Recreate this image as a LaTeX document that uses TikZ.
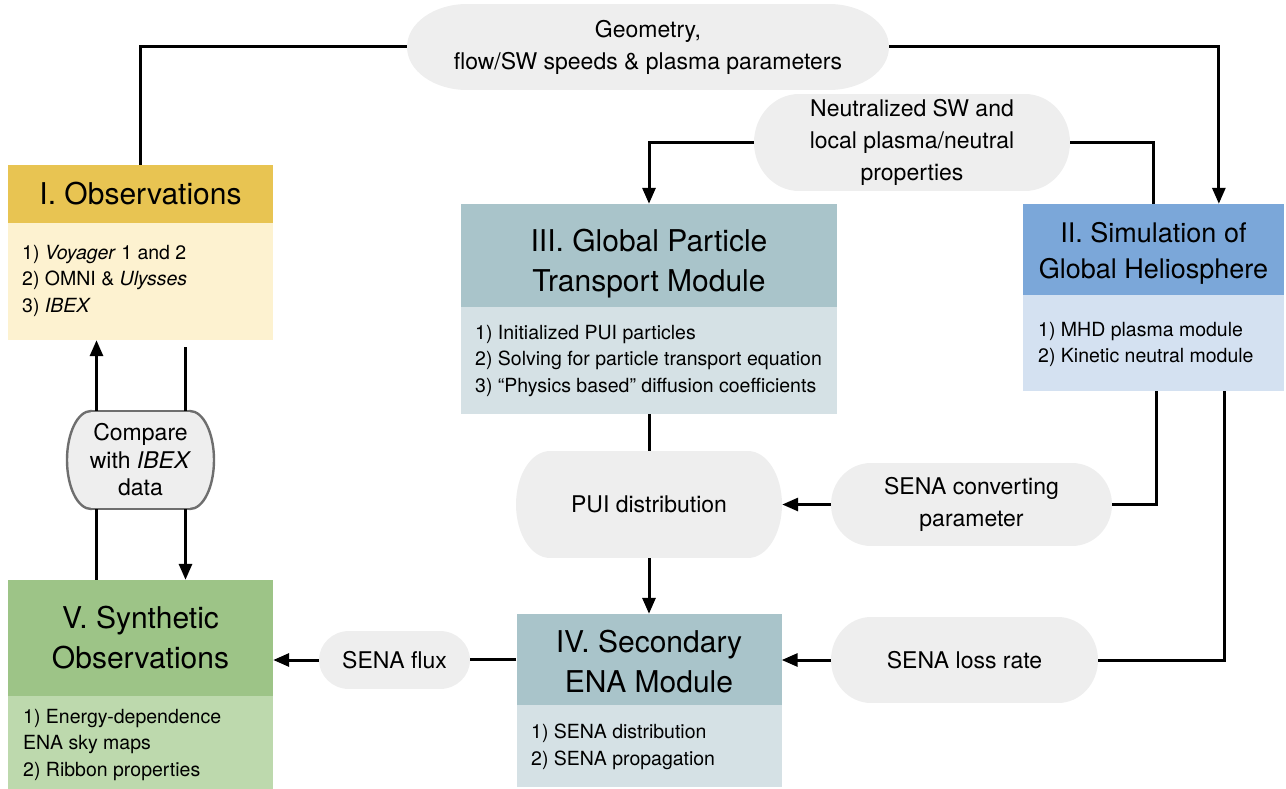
\documentclass[tikz,border=0pt]{standalone}
\usepackage{fontspec}
\setmainfont{TeX Gyre Heros}
\usetikzlibrary{arrows.meta,calc}
\definecolor{obsHc}{HTML}{E8C452}
\definecolor{obsBc}{HTML}{FDF2D0}
\definecolor{simHc}{HTML}{7BA7D9}
\definecolor{simBc}{HTML}{D4E1F1}
\definecolor{modHc}{HTML}{A9C4CA}
\definecolor{modBc}{HTML}{D5E1E5}
\definecolor{synHc}{HTML}{9DC487}
\definecolor{synBc}{HTML}{BDD9AD}
\definecolor{pillc}{HTML}{EEEEEE}
\definecolor{cmpedge}{HTML}{6E6E6E}
\tikzset{
  ln/.style={line width=3pt, line join=miter},
  arr/.style={ln, -{Triangle[length=16pt,width=13pt]}},
  part/.style={rectangle, inner sep=0pt, draw=none},
  titletext/.style={inner sep=0pt, align=center, font=\fontsize{30}{40}\selectfont},
  bodytext/.style={inner sep=0pt, anchor=north west, align=left, font=\fontsize{19.5}{26.5}\selectfont},
  pilltext/.style={rectangle, inner sep=0pt, align=center, font=\fontsize{23}{32}\selectfont},
  cmpline/.style={draw=cmpedge, line width=2.4pt}
}
\newcommand\pillbg[5]{%
  \fill[pillc] (#1+#5,#2) rectangle (#3-#5,#4);
  \fill[pillc] (#1+#5,{(#2+#4)/2}) ellipse [x radius=#5, y radius={(#4-#2)/2}];
  \fill[pillc] (#3-#5,{(#2+#4)/2}) ellipse [x radius=#5, y radius={(#4-#2)/2}];}
\begin{document}
\begin{tikzpicture}[x=1pt,y=-1pt]
\useasboundingbox (0,0) rectangle (1286,789);

% ---------- boxes ----------
% I. Observations
\node[part, fill=obsHc, minimum width=265, minimum height=58] (obsH) at (140.5,194) {};
\node[titletext] (obsL) at (140.5,194) {I. Observations};
\node[part, fill=obsBc, minimum width=265, minimum height=117] (obsB) at (140.5,281.5) {};
\node[bodytext] (obsT) at (22,245) {1) \textit{Voyager} 1 and 2\\2) OMNI \& \textit{Ulysses}\\3) \textit{IBEX}};

% II. Simulation
\node[part, fill=simHc, minimum width=261, minimum height=91] (simH) at (1153.5,249.5) {};
\node[titletext, font=\fontsize{27}{36}\selectfont] (simL) at (1153.5,253.5) {II. Simulation of\\Global Heliosphere};
\node[part, fill=simBc, minimum width=261, minimum height=96] (simB) at (1153.5,343) {};
\node[bodytext] (simT) at (1038,322) {1) MHD plasma module\\2) Kinetic neutral module};

% III. Global Particle Transport
\node[part, fill=modHc, minimum width=376, minimum height=103] (modH) at (649,255.5) {};
\node[titletext] (modL) at (649,264) {III. Global Particle\\Transport Module};
\node[part, fill=modBc, minimum width=376, minimum height=107] (modB) at (649,360.5) {};
\node[bodytext] (modT) at (475,325) {1) Initialized PUI particles\\2) Solving for particle transport equation\\3) “Physics based” diffusion coefficients};

% IV. Secondary ENA
\node[part, fill=modHc, minimum width=265, minimum height=91] (senH) at (649,659.5) {};
\node[titletext] (senL) at (649,662) {IV. Secondary\\ENA Module};
\node[part, fill=modBc, minimum width=265, minimum height=82] (senB) at (649,746) {};
\node[bodytext] (senT) at (531,724) {1) SENA distribution\\2) SENA propagation};

% V. Synthetic Observations
\node[part, fill=synHc, minimum width=265, minimum height=116] (synH) at (140.5,638) {};
\node[titletext] (synL) at (140.5,638) {V. Synthetic\\Observations};
\node[part, fill=synBc, minimum width=265, minimum height=93] (synB) at (140.5,742.5) {};
\node[bodytext] (synT) at (23,709) {1) Energy-dependence\\ENA sky maps\\2) Ribbon properties};

% ---------- pills ----------
\pillbg{407}{4}{889}{90}{60}
\node[pilltext, minimum width=482, minimum height=86] (geo) at (648,47) {Geometry,\\flow/SW speeds \& plasma parameters};

\pillbg{754}{94}{1070}{191}{45}
\node[pilltext, minimum width=316, minimum height=97] (neu) at (912,142.5) {Neutralized SW and\\local plasma/neutral\\properties};

\pillbg{516}{451}{782}{558}{34}
\node[pilltext, minimum width=266, minimum height=107] (pui) at (649,504.5) {PUI distribution};

\pillbg{831}{463}{1112}{546}{40}
\node[pilltext, minimum width=281, minimum height=83] (conv) at (971.5,504.5) {SENA converting\\parameter};

\pillbg{831}{617}{1098}{703}{40}
\node[pilltext, minimum width=267, minimum height=86] (loss) at (964.5,660) {SENA loss rate};

\pillbg{319}{631}{470}{689}{30}
\node[pilltext, minimum width=151, minimum height=58] (flux) at (394.5,660) {SENA flux};

% Compare pill (outlined)
\draw[cmpline, fill=pillc] (91,460) ellipse [x radius=24, y radius=49];
\draw[cmpline, fill=pillc] (190,460) ellipse [x radius=24, y radius=49];
\fill[pillc] (91,411) rectangle (190,509);
\draw[cmpline] (91,411) -- (190,411);
\draw[cmpline] (91,509) -- (190,509);
\node[pilltext, minimum width=147, minimum height=98, font=\fontsize{23}{27.5}\selectfont] (cmp) at (140.5,460) {Compare\\with \textit{IBEX}\\data};

% ---------- connectors ----------
\draw[ln] (obsH.north) |- (geo.west);
\draw[arr] (geo.east) -| ($(simH.north west)!0.75!(simH.north east)$);
\draw[ln] (simH.north) |- (neu.east);
\draw[arr] (neu.west) -| (modH.north);
\draw[ln] (modB.south) -- (pui.north);
\draw[arr] (pui.south) -- (senH.north);
\draw[ln] ([xshift=3]simB.south) |- (conv.east);
\draw[arr] (conv.west) -- (pui.east);
\draw[ln] ($(simB.south west)!0.77!(simB.south east)$) |- (loss.east);
\draw[arr] (loss.west) -- (loss.west -| senH.east);
\draw[ln] (senH.west) -- (senH.west -| flux.east);
\draw[arr] (flux.west) -- (flux.west -| synH.east);

\coordinate (gapR) at ([xshift=45,yshift=-7]obsB.south);
\draw[arr] ([xshift=-44]cmp.north) -- ([xshift=-44]cmp.north |- obsB.south);
\draw[ln] ([xshift=45]cmp.north) -- (gapR);
\draw[ln] ([xshift=-44]cmp.south) -- ([xshift=-44]cmp.south |- synH.north);
\draw[arr] ([xshift=45]cmp.south) -- ([xshift=45]cmp.south |- synH.north);
\end{tikzpicture}
\end{document}
